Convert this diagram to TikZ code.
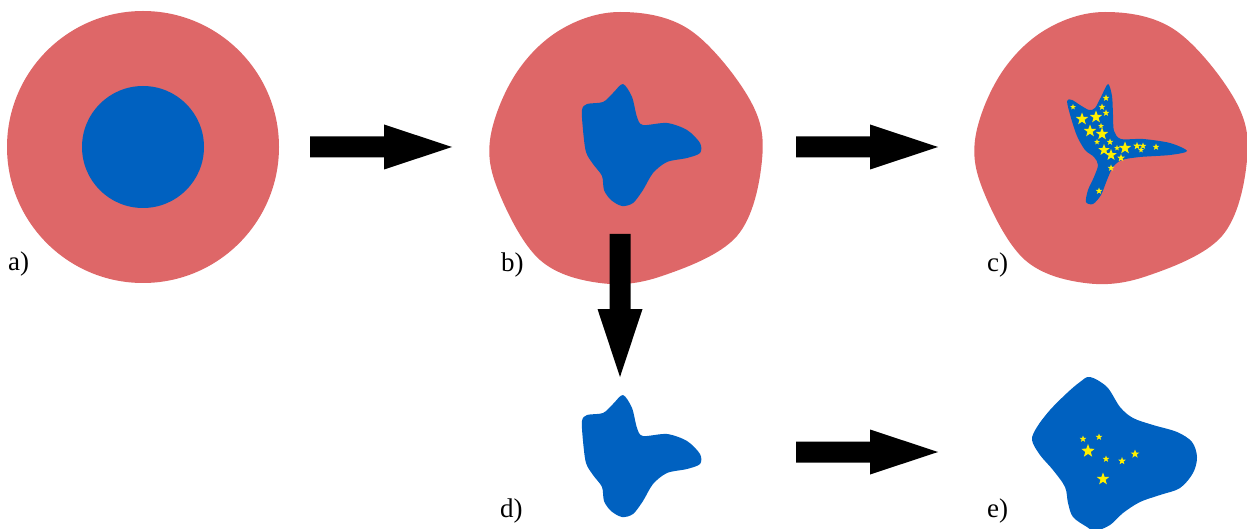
\documentclass[tikz,border=0pt]{standalone}
\usepackage{fontspec}
\setmainfont{Liberation Serif}
\usetikzlibrary{shapes.geometric}
\definecolor{cellpink}{RGB}{222,103,104}
\definecolor{nucblue}{RGB}{0,97,192}
\definecolor{sparkyellow}{RGB}{255,240,0}
\begin{document}
\begin{tikzpicture}[x=1pt,y=-1pt,
  cellbody/.style={fill=cellpink},
  nucleus/.style={fill=nucblue},
  bigarrow/.style={fill=black},
  panellabel/.style={anchor=base west,inner sep=0pt,font=\fontsize{27}{31}\selectfont},
  sparkle/.style={star,star points=5,star point ratio=2.4,fill=sparkyellow,inner sep=0pt,draw=none},
  pics/rightarrow/.style={code={
    \fill[bigarrow] (0,-10.5) -- (74,-10.5) -- (74,-22.5) -- (142,0) -- (74,22.5) -- (74,10.5) -- (0,10.5) -- cycle;}},
  pics/downarrow/.style={code={
    \fill[bigarrow] (-10.5,0) -- (-10.5,75) -- (-22.5,75) -- (0,143) -- (22.5,75) -- (10.5,75) -- (10.5,0) -- cycle;}}
]
\useasboundingbox (0,0) rectangle (1247,529);

% a) round cell with round nucleus
\fill[cellbody] (143,147) circle[radius=136];
\fill[nucleus] (143,147) circle[radius=61];

% b) and c) deformed cells
\foreach \dx in {0,485}{
  \begin{scope}[shift={(\dx,0)}]
    \fill[cellbody] plot[smooth cycle,tension=0.6] coordinates {
      (560,30) (620,12) (690,30) (750,100) (762,160) (737,236)
      (662,276) (600,283) (540,260) (500,195) (490,140) (515,75)};
  \end{scope}
}

% b) and d) lobed nucleus
\foreach \dy in {0,311}{
  \begin{scope}[shift={(0,\dy)}]
    \fill[nucleus] plot[smooth cycle,tension=0.5] coordinates {
      (623,84) (632,97) (637,117) (643,125) (667,123) (687,130) (700,143)
      (700,153) (687,158) (667,162) (653,173) (643,190) (633,203) (622,206)
      (611,200) (604,190) (602,176) (593,164) (586,152) (583,130) (582,110)
      (587,104) (603,102) (613,93)};
  \end{scope}
}

% c) three-armed nucleus
\fill[nucleus] plot[smooth cycle,tension=0.5] coordinates {
  (1108,84) (1112,96) (1113,115) (1114,131) (1121,139) (1143,139)
  (1170,143) (1187,151) (1170,155) (1140,157) (1122,160) (1113,167)
  (1107,180) (1101,195) (1093,204) (1086,202) (1088,190) (1094,177)
  (1098,165) (1094,157) (1085,150) (1077,136) (1071,118) (1067,101)
  (1072,100) (1080,105) (1089,110) (1095,108) (1101,97)};

% sparkles in c)
\foreach \x/\y/\s [count=\i] in {
  1082/119/13, 1096/117/13, 1090/131/13, 1102/134/13, 1104/150/12,
  1111/155/12, 1125/148/13,
  1106/98/7, 1102/107/7, 1106/113/7, 1073/107/6, 1101/126/6,
  1097/142/6, 1110/142/7, 1117/148/6, 1121/158/8, 1111/168/7,
  1099/191/7, 1137/146/8, 1143/146/7, 1141/150/6, 1156/147/7}
  \node[sparkle,minimum size=\s] (cs\i) at (\x,\y) {};

% e) isolated nucleus
\fill[nucleus] plot[smooth cycle,tension=0.55] coordinates {
  (1090,377) (1107,387) (1120,407) (1133,418) (1153,425) (1177,432)
  (1192,442) (1197,457) (1193,473) (1180,488) (1160,495) (1140,502)
  (1123,513) (1110,525) (1095,531) (1087,527) (1073,517) (1068,503)
  (1065,487) (1053,470) (1040,455) (1032,440) (1037,427) (1050,410)
  (1067,393) (1080,382)};

% sparkles in e)
\foreach \x/\y/\s [count=\i] in {
  1083/439/7, 1099/437/7, 1088/451/14, 1106/459/7, 1122/461/8,
  1135/454/9, 1103/479/13}
  \node[sparkle,minimum size=\s] (es\i) at (\x,\y) {};

% block arrows between stages
\pic at (310,147) {rightarrow};
\pic at (796,147) {rightarrow};
\pic at (796,452) {rightarrow};
\pic at (620,234) {downarrow};

% panel labels
\node[panellabel] (la) at (8,271) {a)};
\node[panellabel] (lb) at (501,272) {b)};
\node[panellabel] (lc) at (987,272) {c)};
\node[panellabel] (ld) at (500,517) {d)};
\node[panellabel] (le) at (987,517) {e)};
\end{tikzpicture}
\end{document}
